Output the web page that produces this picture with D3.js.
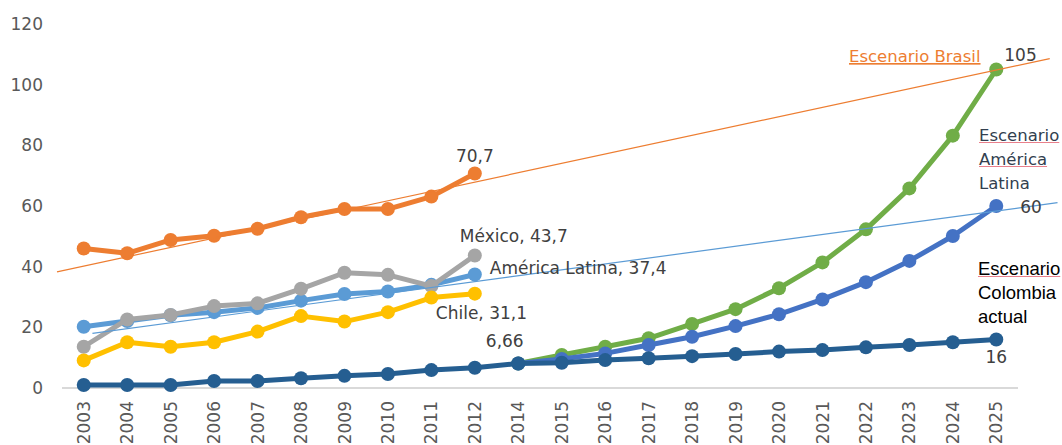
<!DOCTYPE html>
<html>
<head>
<meta charset="utf-8">
<script src="https://cdn.jsdelivr.net/npm/d3@7"></script>
<style>
  body { margin: 0; background: #fff; }
  text { font-family: "DejaVu Sans", sans-serif; }
</style>
</head>
<body>
<svg width="1062" height="445"></svg>
<script>
var svg = d3.select("svg"),
    width = +svg.attr("width"),
    height = +svg.attr("height");

// categories
var years = ["2003","2004","2005","2006","2007","2008","2009","2010","2011","2012",
             "2014","2015","2016","2017","2018","2019","2020","2021","2022","2023","2024","2025"];
var histYears = years.slice(0, 10);
var scenYears = years.slice(10);

// historical series 2003-2012
var brasil   = [46.0, 44.4, 48.8, 50.2, 52.5, 56.3, 59.0, 59.0, 63.1, 70.7];
var mexico   = [13.6, 22.6, 24.1, 27.0, 27.9, 32.7, 38.0, 37.3, 33.6, 43.7];
var amLatina = [20.2, 22.1, 24.0, 25.0, 26.4, 28.8, 31.0, 31.8, 34.0, 37.4];
var chile    = [9.1, 15.1, 13.6, 15.1, 18.6, 23.7, 21.9, 25.0, 29.8, 31.1];
// Colombia, all years
var colombia = [1.0, 1.0, 1.0, 2.3, 2.3, 3.2, 4.0, 4.6, 5.9, 6.66,
                8.1, 8.3, 9.2, 9.8, 10.5, 11.2, 12.0, 12.5, 13.4, 14.2, 15.1, 16];
// scenarios 2014-2025
var escBrasil = [8.1, 10.9, 13.6, 16.4, 21.1, 26.0, 32.9, 41.4, 52.3, 65.8, 83.2, 105];
var escAL     = [8.1, 9.6, 11.4, 14.2, 16.9, 20.4, 24.3, 29.2, 34.9, 41.9, 50.1, 60];

// thin trend lines: [category index, value] at both ends
var trendBrasil = [[-0.615, 38.3], [22.23, 108.6]];
var trendAL     = [[0.2, 18.0], [22.41, 61.1]];

var yTicks = [0, 20, 40, 60, 80, 100, 120];

var x = d3.scaleBand().domain(years).range([62, 1018]).padding(0);
var bw = x.bandwidth();
function cx(yr) { return x(yr) + bw / 2; }
var xIdx = d3.scaleLinear().domain([0, years.length - 1]).range([cx(years[0]), cx(years[years.length - 1])]);
var y = d3.scaleLinear().domain([0, 120]).range([388, 24]);

// y tick labels
svg.append("g").selectAll("text")
  .data(yTicks).enter().append("text")
  .attr("x", 43).attr("y", function(d) { return y(d); })
  .attr("dy", "0.36em")
  .attr("text-anchor", "end")
  .attr("font-size", 17)
  .attr("fill", "#595959")
  .text(function(d) { return d; });

// baseline
svg.append("line")
  .attr("x1", 62).attr("x2", 1018)
  .attr("y1", y(0)).attr("y2", y(0))
  .attr("stroke", "#d9d9d9").attr("stroke-width", 2);

// x labels
svg.append("g").selectAll("text")
  .data(years).enter().append("text")
  .attr("transform", function(d) { return "translate(" + cx(d) + ",401) rotate(-90)"; })
  .attr("text-anchor", "end")
  .attr("dy", "0.36em")
  .attr("font-size", 17)
  .attr("fill", "#595959")
  .text(function(d) { return d; });

function series(cats, vals, color) {
  var pts = cats.map(function(c, i) { return [cx(c), y(vals[i])]; });
  var g = svg.append("g");
  g.append("path")
    .attr("d", d3.line()(pts))
    .attr("fill", "none")
    .attr("stroke", color)
    .attr("stroke-width", 5)
    .attr("stroke-linejoin", "round");
  g.selectAll("circle").data(pts).enter().append("circle")
    .attr("cx", function(d) { return d[0]; })
    .attr("cy", function(d) { return d[1]; })
    .attr("r", 7)
    .attr("fill", color);
}

series(histYears, brasil, "#ED7D31");
series(histYears, amLatina, "#5B9BD5");
series(histYears, mexico, "#A5A5A5");
series(histYears, chile, "#FFC000");
series(scenYears, escBrasil, "#70AD47");
series(scenYears, escAL, "#4472C4");
series(years, colombia, "#255E91");

function trend(t, color) {
  svg.append("line")
    .attr("x1", xIdx(t[0][0])).attr("y1", y(t[0][1]))
    .attr("x2", xIdx(t[1][0])).attr("y2", y(t[1][1]))
    .attr("stroke", color).attr("stroke-width", 1.2);
}
trend(trendBrasil, "#ED7D31");
trend(trendAL, "#5B9BD5");

// value labels
function label(px, py, txt, anchor) {
  svg.append("text")
    .attr("x", px).attr("y", py)
    .attr("text-anchor", anchor || "start")
    .attr("font-size", 17)
    .attr("fill", "#404040")
    .text(txt);
}
var p12 = cx("2012"), p25 = cx("2025");
label(p12, y(70.7) - 12, "70,7", "middle");
label(p12 - 15, y(43.7) - 13, "México, 43,7");
label(p12 + 15, y(37.4) - 1, "América Latina, 37,4");
label(p12 - 39, y(31.1) + 25, "Chile, 31,1");
label(p12 + 11, y(6.66) - 21, "6,66");
label(p25 + 8, y(105) - 9, "105");
label(p25 + 24, y(60) + 7, "60");
label(p25, y(16) + 24, "16", "middle");

// scenario labels
svg.append("text")
  .attr("x", 849).attr("y", 62)
  .attr("font-size", 16.5)
  .attr("fill", "#ED7D31")
  .attr("text-decoration", "underline")
  .text("Escenario Brasil");

function block(lines, x0, y0, color, font, size, underlined) {
  lines.forEach(function(l, i) {
    var t = svg.append("text")
      .attr("x", x0).attr("y", y0 + i * 24)
      .attr("font-size", size)
      .attr("fill", color)
      .style("font-family", font)
      .text(l);
    if (underlined.indexOf(i) >= 0) {
      var w = t.node().getComputedTextLength();
      svg.append("line")
        .attr("x1", x0).attr("x2", x0 + w)
        .attr("y1", y0 + i * 24 + 1.5).attr("y2", y0 + i * 24 + 1.5)
        .attr("stroke", "#e8808c").attr("stroke-width", 1);
    }
  });
}
block(["Escenario", "América", "Latina"], 979, 141, "#323F4F", "'DejaVu Sans', sans-serif", 16.5, [0, 1]);
block(["Escenario", "Colombia", "actual"], 978, 275, "#000000", "'Liberation Sans', Arial, sans-serif", 18.5, [0]);
</script>
</body>
</html>
